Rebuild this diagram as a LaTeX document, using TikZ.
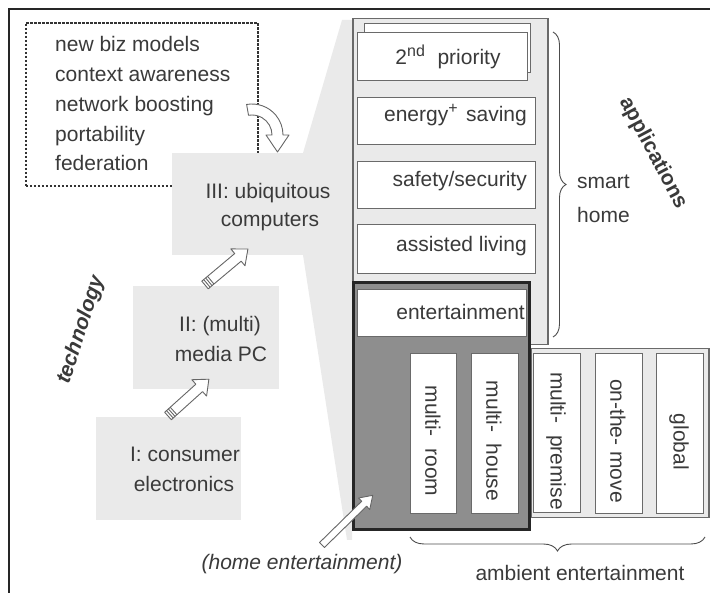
\documentclass[tikz,border=0pt]{standalone}
\usepackage{fontspec}
\setmainfont{Liberation Sans}
\usetikzlibrary{decorations.pathreplacing}
\definecolor{txt}{HTML}{3A3A3A}
\definecolor{lgray}{HTML}{EAEAEA}
\definecolor{dgray}{HTML}{8E8E8E}
\definecolor{edge}{HTML}{6A6A6A}
\begin{document}
\begin{tikzpicture}[x=1pt,y=1pt, font=\fontsize{21}{25}\selectfont, text=txt,
  wbox/.style={draw=edge, line width=1, fill=white, anchor=north west, inner sep=0},
  gbox/.style={fill=lgray, anchor=north west, inner sep=0},
  lbl/.style={inner sep=0},
  barrow/.style={draw=black!60, fill=white, line width=0.9, line join=round},
  brc/.style={decorate, draw=black!70, line width=0.9},
  pics/blockarrow/.style={code={
    \draw[barrow] (0,-5) -- ({#1-13},-5) -- ({#1-13},-11) -- (#1,0) -- ({#1-13},11) -- ({#1-13},5) -- (0,5) -- cycle;
    \draw[black!60, line width=0.9] (2.5,-5) -- (2.5,5) (5,-5) -- (5,5) (7.5,-5) -- (7.5,5);
  }},
  pics/thinarrow/.style={code={
    \draw[barrow] (0,-3.5) -- ({#1-12},-3.5) -- ({#1-12},-8) -- (#1,0) -- ({#1-12},8) -- ({#1-12},3.5) -- (0,3.5) -- cycle;
  }}]
\useasboundingbox (0,0) rectangle (710,-593);

% frame
\draw[line width=1.5, color=black!85] (9,-593) -- (9,-9) -- (710,-9);

% dashed idea box
\node[draw=black!80, dash pattern=on 2.5pt off 1.5pt, line width=1.8, fill=white,
      minimum width=232, minimum height=163, anchor=north west, inner sep=0] (ideas) at (25,-22) {};
\foreach \t [count=\i] in {new biz models, context awareness, network boosting, portability, federation}
  \node[lbl, anchor=base west] (idea\i) at (55,{-52-29.7*(\i-1)}) {\t};

% gray wedge towards application column
\fill[lgray] (303,-153) -- (342,-20) -- (352,-20) -- (352,-540) -- (347,-540) -- (303,-255) -- cycle;

% technology boxes
\node[gbox, minimum width=132, minimum height=102] (tech3) at (172,-153) {};
\node[gbox, minimum width=146, minimum height=103] (tech2) at (133,-286) {};
\node[gbox, minimum width=145, minimum height=103] (tech1) at (96,-417) {};
\node[lbl, anchor=base] (t3a) at (268,-199) {III: ubiquitous};
\node[lbl, anchor=base] (t3b) at (270,-227) {computers};
\node[lbl, anchor=base] (t2a) at (220,-332) {II: (multi)};
\node[lbl, anchor=base] (t2b) at (221,-362) {media PC};
\node[lbl, anchor=base] (t1a) at (185,-462) {I: consumer};
\node[lbl, anchor=base] (t1b) at (184,-492) {electronics};

% curved arrow from idea box to III
\begin{scope}[shift={(252,-135)}]
  \draw[barrow] (100:31) arc[start angle=100, end angle=0, radius=31] -- (37,0) -- (25.5,-17)
     -- (14,0) -- (20,0) arc[start angle=0, end angle=100, radius=20] -- cycle;
\end{scope}

% straight block arrows
\pic[rotate=42] at (168,-416) {blockarrow=55};
\pic[rotate=40] at (205,-285) {blockarrow=56};

% application column
\node[draw=edge, line width=1.5, fill=lgray, anchor=north west, inner sep=0,
      minimum width=195, minimum height=326] (col) at (352,-18) {};
% ambient column
\node[draw=edge, line width=1.5, fill=lgray, anchor=north west, inner sep=0,
      minimum width=178, minimum height=169] (amb) at (530,-348) {};

\node[wbox, minimum width=166, minimum height=49] (prioback) at (364,-23) {};
\node[wbox, minimum width=170, minimum height=48] (prio) at (357,-32) {};
\node[wbox, minimum width=178, minimum height=47] (energy) at (357,-97) {};
\node[wbox, minimum width=178, minimum height=47] (safety) at (357,-161) {};
\node[wbox, minimum width=178, minimum height=49] (assist) at (357,-224) {};

\node[lbl, anchor=base] (prioT) at (448,-65) {2\raisebox{0.42em}{\fontsize{16}{16}\selectfont nd}\hspace{0.6em}priority};
\node[lbl, anchor=base east] (energyT) at (527,-122) {energy\raisebox{0.42em}{\fontsize{16}{16}\selectfont +}\hspace{0.4em}saving};
\node[lbl, anchor=base east] (safetyT) at (527,-187) {safety/security};
\node[lbl, anchor=base east] (assistT) at (527,-252) {assisted living};

% home entertainment (dark box)
\node[draw=black!85, line width=3, fill=dgray, anchor=north west, inner sep=0,
      minimum width=176, minimum height=247] (home) at (352,-281) {};
\node[wbox, minimum width=169, minimum height=47] (ent) at (357,-289) {};
\node[lbl, anchor=base east] (entT) at (525,-320) {entertainment};

% vertical boxes
\node[wbox, minimum width=46, minimum height=160] (mroom) at (410,-353) {};
\node[wbox, minimum width=47, minimum height=160] (mhouse) at (471,-353) {};
\node[wbox, minimum width=47, minimum height=159] (mprem) at (533,-353) {};
\node[wbox, minimum width=47, minimum height=160] (move) at (595,-353) {};
\node[wbox, minimum width=47, minimum height=160] (glob) at (656,-353) {};
\node[lbl, rotate=-90] (mroomT) at (433,-441) {multi-\ \ room};
\node[lbl, rotate=-90] (mhouseT) at (494,-441) {multi-\ \ house};
\node[lbl, rotate=-90] (mpremT) at (556,-441) {multi-\ \ premise};
\node[lbl, rotate=-90] (moveT) at (618,-441) {on-the-\ move};
\node[lbl, rotate=-90] (globT) at (679,-442) {global};

% home entertainment arrow and label
\pic[rotate=44.4] at (322,-545) {thinarrow=71};
\node[lbl, anchor=base, font=\fontsize{21}{25}\selectfont\itshape] (homeT) at (302,-569) {(home entertainment)};

% braces
\draw[brc, decoration={brace, amplitude=13pt}] (553,-32) -- (553,-337);
\node[lbl, anchor=base west] (smart) at (577,-189) {smart};
\node[lbl, anchor=base west] (homeL) at (577,-223) {home};
\draw[brc, decoration={brace, amplitude=14pt}] (705,-537) -- (410,-537);
\node[lbl, anchor=base] (ambT) at (580,-580) {ambient entertainment};

% axis labels
\node[lbl, rotate=72, font=\fontsize{21}{25}\selectfont\bfseries\itshape] (techL) at (81,-330) {technology};
\node[lbl, rotate=-62, font=\fontsize{21}{25}\selectfont\bfseries] (appL) at (653,-153) {applications};
\end{tikzpicture}
\end{document}
